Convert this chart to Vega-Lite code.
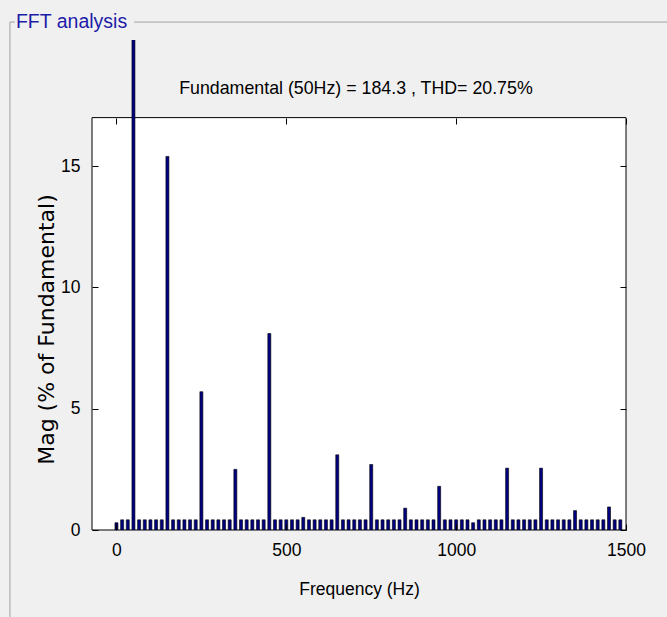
{
  "$schema": "https://vega.github.io/schema/vega-lite/v6.json",
  "width": 534,
  "height": 490,
  "autosize": {"type": "none"},
  "padding": {"left": 92, "top": 40, "right": 41, "bottom": 87},
  "background": "#f0f0f0",
  "config": {"view": {"stroke": null, "fill": null}, "font": "Liberation Sans"},
  "resolve": {"axis": {"x": "independent", "y": "independent"}},
  "layer": [
    {
      "data": {"values": [{}]},
      "mark": {"type": "rect", "fill": "white", "stroke": "black", "strokeWidth": 1},
      "encoding": {
        "x": {"datum": -72, "type": "quantitative", "scale": {"domain": [-72, 1500], "nice": false, "zero": false, "padding": 0},
              "axis": {"orient": "top", "offset": -78, "values": [0, 500, 1000, 1500], "labels": false, "domain": false, "tickSize": -6, "tickColor": "black", "title": null, "zindex": 1}},
        "x2": {"datum": 1500},
        "y": {"datum": 0, "type": "quantitative", "scale": {"domain": [0, 20.2], "nice": false, "zero": true, "padding": 0},
              "axis": {"orient": "right", "values": [0, 5, 10, 15], "labels": false, "domain": false, "tickSize": -6, "tickColor": "black", "title": null, "zindex": 1}},
        "y2": {"datum": 17}
      }
    },
    {
      "data": {"values": [
        {"freq": 0, "mag": 0.3}, {"freq": 16.67, "mag": 0.42}, {"freq": 33.33, "mag": 0.42}, {"freq": 50, "mag": 100},
        {"freq": 66.67, "mag": 0.42}, {"freq": 83.33, "mag": 0.42}, {"freq": 100, "mag": 0.42}, {"freq": 116.67, "mag": 0.42},
        {"freq": 133.33, "mag": 0.42}, {"freq": 150, "mag": 15.4}, {"freq": 166.67, "mag": 0.42}, {"freq": 183.33, "mag": 0.42},
        {"freq": 200, "mag": 0.42}, {"freq": 216.67, "mag": 0.42}, {"freq": 233.33, "mag": 0.42}, {"freq": 250, "mag": 5.7},
        {"freq": 266.67, "mag": 0.42}, {"freq": 283.33, "mag": 0.42}, {"freq": 300, "mag": 0.42}, {"freq": 316.67, "mag": 0.42},
        {"freq": 333.33, "mag": 0.42}, {"freq": 350, "mag": 2.5}, {"freq": 366.67, "mag": 0.42}, {"freq": 383.33, "mag": 0.42},
        {"freq": 400, "mag": 0.42}, {"freq": 416.67, "mag": 0.42}, {"freq": 433.33, "mag": 0.42}, {"freq": 450, "mag": 8.1},
        {"freq": 466.67, "mag": 0.42}, {"freq": 483.33, "mag": 0.42}, {"freq": 500, "mag": 0.42}, {"freq": 516.67, "mag": 0.42},
        {"freq": 533.33, "mag": 0.42}, {"freq": 550, "mag": 0.52}, {"freq": 566.67, "mag": 0.42}, {"freq": 583.33, "mag": 0.42},
        {"freq": 600, "mag": 0.42}, {"freq": 616.67, "mag": 0.42}, {"freq": 633.33, "mag": 0.42}, {"freq": 650, "mag": 3.1},
        {"freq": 666.67, "mag": 0.42}, {"freq": 683.33, "mag": 0.42}, {"freq": 700, "mag": 0.42}, {"freq": 716.67, "mag": 0.42},
        {"freq": 733.33, "mag": 0.42}, {"freq": 750, "mag": 2.7}, {"freq": 766.67, "mag": 0.42}, {"freq": 783.33, "mag": 0.42},
        {"freq": 800, "mag": 0.42}, {"freq": 816.67, "mag": 0.42}, {"freq": 833.33, "mag": 0.42}, {"freq": 850, "mag": 0.9},
        {"freq": 866.67, "mag": 0.42}, {"freq": 883.33, "mag": 0.42}, {"freq": 900, "mag": 0.42}, {"freq": 916.67, "mag": 0.42},
        {"freq": 933.33, "mag": 0.42}, {"freq": 950, "mag": 1.8}, {"freq": 966.67, "mag": 0.42}, {"freq": 983.33, "mag": 0.42},
        {"freq": 1000, "mag": 0.42}, {"freq": 1016.67, "mag": 0.42}, {"freq": 1033.33, "mag": 0.42}, {"freq": 1050, "mag": 0.3},
        {"freq": 1066.67, "mag": 0.42}, {"freq": 1083.33, "mag": 0.42}, {"freq": 1100, "mag": 0.42}, {"freq": 1116.67, "mag": 0.42},
        {"freq": 1133.33, "mag": 0.42}, {"freq": 1150, "mag": 2.55}, {"freq": 1166.67, "mag": 0.42}, {"freq": 1183.33, "mag": 0.42},
        {"freq": 1200, "mag": 0.42}, {"freq": 1216.67, "mag": 0.42}, {"freq": 1233.33, "mag": 0.42}, {"freq": 1250, "mag": 2.55},
        {"freq": 1266.67, "mag": 0.42}, {"freq": 1283.33, "mag": 0.42}, {"freq": 1300, "mag": 0.42}, {"freq": 1316.67, "mag": 0.42},
        {"freq": 1333.33, "mag": 0.42}, {"freq": 1350, "mag": 0.8}, {"freq": 1366.67, "mag": 0.42}, {"freq": 1383.33, "mag": 0.42},
        {"freq": 1400, "mag": 0.42}, {"freq": 1416.67, "mag": 0.42}, {"freq": 1433.33, "mag": 0.42}, {"freq": 1450, "mag": 0.95},
        {"freq": 1466.67, "mag": 0.42}, {"freq": 1483.33, "mag": 0.42}
      ]},
      "mark": {"type": "bar", "orient": "vertical", "width": 3, "fill": "#000080", "stroke": "black", "strokeWidth": 0.6, "clip": true},
      "encoding": {
        "x": {"field": "freq", "type": "quantitative", "scale": {"domain": [-72, 1500], "nice": false, "zero": false, "padding": 0},
              "axis": {"orient": "bottom", "values": [0, 500, 1000, 1500], "format": "d", "labelFlush": false, "domain": false, "tickSize": -6, "tickColor": "black",
                       "labelPadding": 17, "labelFontSize": 17.5, "labelColor": "black", "labelFont": "Liberation Sans",
                       "title": "Frequency (Hz)", "titleFontSize": 17.5, "titleFontWeight": "normal", "titleColor": "black", "titleFont": "Liberation Sans", "titlePadding": 22, "zindex": 1}},
        "y": {"field": "mag", "type": "quantitative", "scale": {"domain": [0, 20.2], "nice": false, "zero": true, "padding": 0},
              "axis": {"orient": "left", "values": [0, 5, 10, 15], "labelFlush": false, "domain": false, "tickSize": -6, "tickColor": "black",
                       "labelPadding": 18, "labelFontSize": 17.5, "labelColor": "black", "labelFont": "Liberation Sans",
                       "title": "Mag (% of Fundamental)", "titleFont": "DejaVu Sans", "titleFontSize": 22, "titleFontWeight": "normal", "titleColor": "black",
                       "titleX": -46, "titleY": 289, "titleBaseline": "middle", "titleAngle": -90, "zindex": 1}}
      }
    },
    {
      "data": {"values": [{}]},
      "mark": {"type": "text", "font": "Liberation Sans", "fontSize": 17.8, "align": "center", "baseline": "middle", "color": "black",
               "text": "Fundamental (50Hz) = 184.3 , THD= 20.75%"},
      "encoding": {
        "x": {"datum": 705, "type": "quantitative", "axis": null},
        "y": {"datum": 18.2, "type": "quantitative", "axis": null}
      }
    },
    {
      "data": {"values": [{}]},
      "mark": {"type": "text", "font": "Liberation Sans", "fontSize": 19.5, "align": "left", "baseline": "middle", "color": "#1c1ca8",
               "text": "FFT analysis"},
      "encoding": {
        "x": {"datum": -296, "type": "quantitative", "axis": null},
        "y": {"datum": 20.94, "type": "quantitative", "axis": null}
      }
    },
    {
      "data": {"values": [{}]},
      "mark": {"type": "rule", "color": "#a0a0a0", "strokeWidth": 1},
      "encoding": {
        "x": {"datum": -313.6, "type": "quantitative", "axis": null},
        "x2": {"datum": -299},
        "y": {"datum": 20.94, "type": "quantitative", "axis": null}
      }
    },
    {
      "data": {"values": [{}]},
      "mark": {"type": "rule", "color": "#a0a0a0", "strokeWidth": 1},
      "encoding": {
        "x": {"datum": 52, "type": "quantitative", "axis": null},
        "x2": {"datum": 1625},
        "y": {"datum": 20.94, "type": "quantitative", "axis": null}
      }
    },
    {
      "data": {"values": [{}]},
      "mark": {"type": "rule", "color": "#a0a0a0", "strokeWidth": 1},
      "encoding": {
        "x": {"datum": -313.6, "type": "quantitative", "axis": null},
        "y": {"datum": 20.94, "type": "quantitative", "axis": null},
        "y2": {"datum": -3.6}
      }
    }
  ]
}
